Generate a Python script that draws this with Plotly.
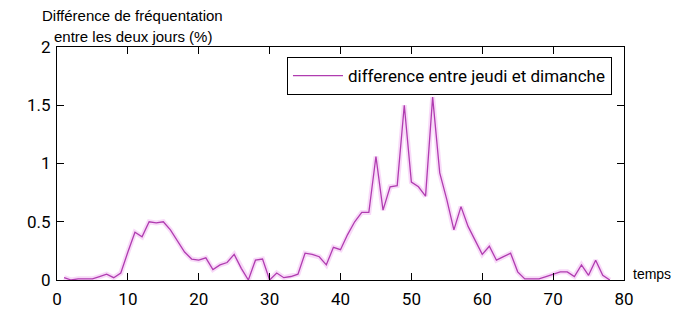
import plotly.graph_objects as go

temps = list(range(1, 79))
difference = [
    0.02, 0.00, 0.01, 0.01, 0.01, 0.03, 0.05, 0.02, 0.06, 0.24,   # 1-10
    0.41, 0.37, 0.50, 0.49, 0.50, 0.43, 0.34, 0.24, 0.18, 0.17,   # 11-20
    0.19, 0.09, 0.13, 0.15, 0.22, 0.10, 0.00, 0.17, 0.18, 0.00,   # 21-30
    0.06, 0.02, 0.03, 0.05, 0.23, 0.22, 0.20, 0.13, 0.28, 0.26,   # 31-40
    0.39, 0.50, 0.58, 0.58, 1.06, 0.60, 0.80, 0.81, 1.50, 0.84,   # 41-50
    0.80, 0.72, 1.57, 0.92, 0.69, 0.43, 0.63, 0.46, 0.34, 0.22,   # 51-60
    0.29, 0.17, 0.20, 0.23, 0.07, 0.01, 0.01, 0.01, 0.03, 0.05,   # 61-70
    0.07, 0.07, 0.03, 0.13, 0.04, 0.17, 0.04, 0.00,               # 71-78
]
x_ticks = [0, 10, 20, 30, 40, 50, 60, 70, 80]
y_ticks = [0, 0.5, 1, 1.5, 2]
y_tick_labels = ["0", "0.5", "1", "1.5", "2"]
series_name = "difference entre jeudi et dimanche"

NARROW = "Roboto, Liberation Sans Narrow, sans-serif"
SANS = "Liberation Sans, Arial, sans-serif"

fig = go.Figure()
fig.add_trace(go.Scatter(
    x=temps, y=difference, mode="lines",
    line=dict(color="rgba(235,150,235,0.35)", width=5),
    showlegend=False, hoverinfo="skip",
))
fig.add_trace(go.Scatter(
    x=temps, y=difference, mode="lines", name=series_name,
    line=dict(color="#b03cb0", width=1.3),
))

axis_common = dict(
    showline=True, linecolor="black", linewidth=1, mirror="ticks",
    ticks="inside", ticklen=7, tickcolor="black", showgrid=False,
    zeroline=False, automargin=False,
    tickfont=dict(family=NARROW, size=17, color="black"),
)
fig.update_xaxes(range=[0, 80], tickvals=x_ticks, ticklabelstandoff=4, **axis_common)
fig.update_yaxes(range=[0, 2], tickvals=y_ticks, ticktext=y_tick_labels,
                 ticklabelstandoff=2, **axis_common)

# page body adds an 8 px offset; figure sized so the plot lands where the reference has it
fig.update_layout(
    width=681, height=302,
    margin=dict(l=49, r=65, t=39, b=30, autoexpand=False),
    paper_bgcolor="white", plot_bgcolor="white",
    showlegend=True,
    legend=dict(
        x=0.4056, y=0.957, xanchor="left", yanchor="top",
        bordercolor="black", borderwidth=1, bgcolor="white",
        font=dict(family=NARROW, size=17, color="black"),
        itemwidth=50,
    ),
    annotations=[
        dict(text="Différence de fréquentation", x=-0.03, y=1.137,
             xref="paper", yref="paper", xanchor="left", yanchor="middle",
             showarrow=False, font=dict(family=SANS, size=15, color="black")),
        dict(text="entre les deux jours (%)", x=-0.009, y=1.047,
             xref="paper", yref="paper", xanchor="left", yanchor="middle",
             showarrow=False, font=dict(family=SANS, size=15, color="black")),
        dict(text="temps", x=1.012, y=0.026,
             xref="paper", yref="paper", xanchor="left", yanchor="middle",
             showarrow=False, font=dict(family=SANS, size=14, color="black")),
    ],
)

fig.write_html("out.html")
